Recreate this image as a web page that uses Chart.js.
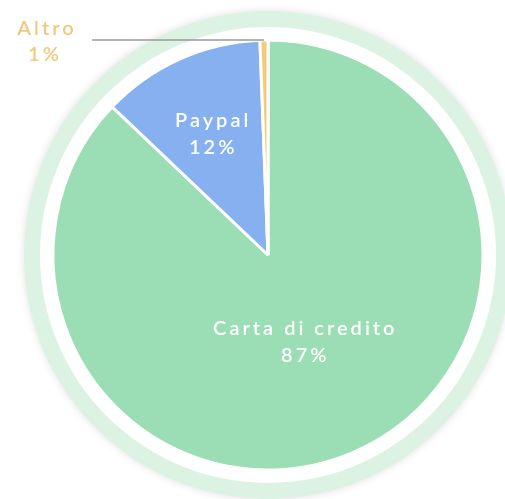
<!DOCTYPE html>
<html>
<head>
<meta charset="utf-8">
<script src="https://cdn.jsdelivr.net/npm/chart.js@4"></script>
<style>
  html, body { margin: 0; padding: 0; background: #fff; }
  #wrap { width: 505px; height: 499px; }
</style>
</head>
<body>
<div id="wrap"><canvas id="pie"></canvas></div>
<script>
// data
const categories = ["Carta di credito", "Paypal", "Altro"];
const shares = [87.1, 12.3, 0.6];
const percentLabels = ["87%", "12%", "1%"];
const sliceColors = ["#9bddb4", "#86b0f0", "#f5c97a"];

// draws the white + light green rings behind the pie
const ringPlugin = {
  id: "rings",
  beforeDatasetsDraw(chart) {
    const arc = chart.getDatasetMeta(0).data[0];
    if (!arc) return;
    const { x, y, outerRadius } = arc.getProps(["x", "y", "outerRadius"], true);
    const ctx = chart.ctx;
    ctx.save();
    ctx.shadowColor = "rgba(0,0,0,0.12)";
    ctx.shadowBlur = 8;
    ctx.fillStyle = "#dcf3e3";
    ctx.beginPath();
    ctx.arc(x, y, outerRadius + 29, 0, Math.PI * 2);
    ctx.fill();
    ctx.shadowColor = "transparent";
    ctx.fillStyle = "#ffffff";
    ctx.beginPath();
    ctx.arc(x, y, outerRadius + 13, 0, Math.PI * 2);
    ctx.fill();
    ctx.restore();
  }
};

// slice labels: inside for big slices, outside with a leader line for the tiny one
const labelPlugin = {
  id: "sliceLabels",
  afterDatasetsDraw(chart, args, opts) {
    const ctx = chart.ctx;
    const meta = chart.getDatasetMeta(0);
    ctx.save();
    ctx.font = "600 20px Lato";
    ctx.letterSpacing = "3px";
    ctx.textAlign = "center";
    ctx.textBaseline = "middle";
    meta.data.forEach((arc, i) => {
      const { x, y, startAngle, endAngle, outerRadius } =
        arc.getProps(["x", "y", "startAngle", "endAngle", "outerRadius"], true);
      const mid = (startAngle + endAngle) / 2;
      if (i < 2) {
        const r = outerRadius * opts.radius[i];
        const lx = x + Math.cos(mid) * r;
        const ly = y + Math.sin(mid) * r;
        ctx.fillStyle = "#ffffff";
        ctx.fillText(categories[i], lx, ly - 13);
        ctx.fillText(percentLabels[i], lx, ly + 14);
      } else {
        const px = x + Math.cos(mid) * outerRadius;
        const py = y + Math.sin(mid) * outerRadius;
        ctx.strokeStyle = "#9a9a9a";
        ctx.lineWidth = 1.6;
        ctx.beginPath();
        ctx.moveTo(px, py);
        ctx.lineTo(92, py);
        ctx.stroke();
        ctx.fillStyle = "#f2c880";
        ctx.fillText(categories[i], 47, 29);
        ctx.fillText(percentLabels[i], 45, 55);
      }
    });
    ctx.restore();
  }
};

new Chart(document.getElementById("pie"), {
  type: "pie",
  data: {
    labels: categories,
    datasets: [{
      data: shares,
      backgroundColor: sliceColors,
      borderColor: "#ffffff",
      borderWidth: 3,
      hoverOffset: 0
    }]
  },
  options: {
    responsive: true,
    maintainAspectRatio: false,
    animation: false,
    layout: { padding: { left: 51.5, right: 20.5, top: 38.5, bottom: 27.5 } },
    plugins: {
      legend: { display: false },
      tooltip: { enabled: false },
      sliceLabels: { radius: [0.44, 0.62] }
    }
  },
  plugins: [ringPlugin, labelPlugin]
});
</script>
</body>
</html>
